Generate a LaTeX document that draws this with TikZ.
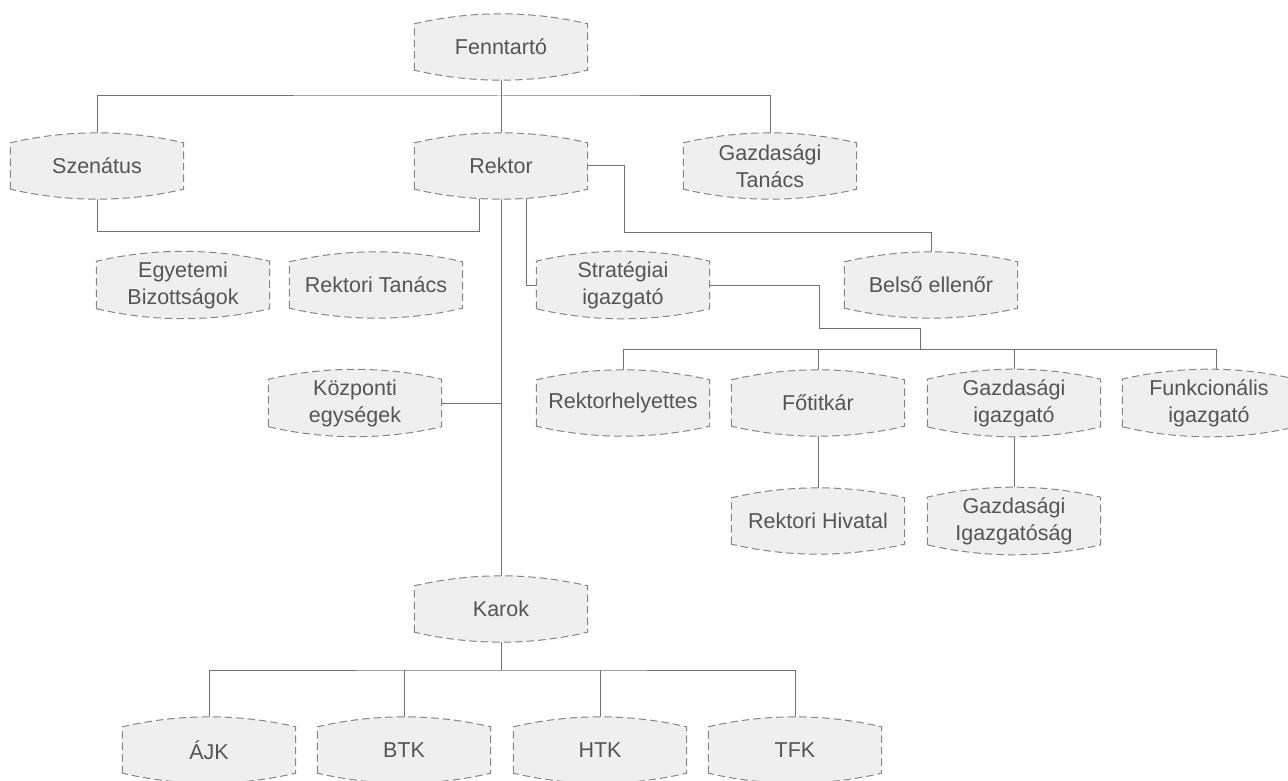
\documentclass[tikz,border=0pt]{standalone}
\usepackage{fontspec}
\setmainfont{Liberation Sans}
\usetikzlibrary{calc}
\pgfdeclarelayer{lines}
\pgfdeclarelayer{shapes}
\pgfsetlayers{lines,shapes,main}
\definecolor{txtc}{HTML}{555555}
\definecolor{linec}{HTML}{707070}
\definecolor{bordc}{HTML}{858585}
\definecolor{fillc}{HTML}{EFEFEF}
\tikzset{
  unit/.style={rectangle, minimum width=173pt, minimum height=46pt, inner sep=0pt,
    align=center, text=txtc, font=\fontsize{21.5}{27}\selectfont},
  bxs/.style={draw=bordc, fill=fillc, line width=1pt, dash pattern=on 7.5pt off 4pt},
  conn/.style={draw=linec, line width=1pt}
}
\newcommand\bx[1]{\path[bxs] (#1.south west) -- (#1.north west)
  .. controls ($(#1.north west)!0.33!(#1.north east)+(0pt,13.3pt)$) and ($(#1.north west)!0.67!(#1.north east)+(0pt,13.3pt)$) .. (#1.north east)
  -- (#1.south east)
  .. controls ($(#1.south west)!0.67!(#1.south east)+(0pt,-13.3pt)$) and ($(#1.south west)!0.33!(#1.south east)+(0pt,-13.3pt)$) .. (#1.south west) -- cycle;}
\begin{document}
\begin{tikzpicture}[x=1pt,y=-1pt]
\useasboundingbox (0,0) rectangle (1288,781);
\node[unit] (F) at (501,47) {Fenntartó};
\node[unit] (Sz) at (97,166) {Szenátus};
\node[unit] (R) at (501,166) {Rektor};
\node[unit] (GT) at (770,166) {Gazdasági\\Tanács};
\node[unit] (EB) at (183,285) {Egyetemi\\Bizottságok};
\node[unit] (RT) at (376,285) {Rektori Tanács};
\node[unit] (SI) at (623,285) {Stratégiai\\igazgató};
\node[unit] (BE) at (931,285) {Belső ellenőr};
\node[unit] (KE) at (355,403) {Központi\\egységek};
\node[unit] (RH) at (623,403) {Rektorhelyettes};
\node[unit] (FT) at (818,403) {Főtitkár};
\node[unit] (GI) at (1014,403) {Gazdasági\\igazgató};
\node[unit] (FI) at (1209,403) {Funkcionális\\igazgató};
\node[unit] (RHiv) at (818,521) {Rektori Hivatal};
\node[unit] (GIg) at (1014,521) {Gazdasági\\Igazgatóság};
\node[unit] (K) at (501,609) {Karok};
\node[unit] (AJK) at (209,750) {ÁJK};
\node[unit] (BTK) at (404,750) {BTK};
\node[unit] (HTK) at (600,750) {HTK};
\node[unit] (TFK) at (795,750) {TFK};
\begin{pgfonlayer}{shapes}
\foreach \n in {F,Sz,R,GT,EB,RT,SI,BE,KE,RH,FT,GI,FI,RHiv,GIg,K,AJK,BTK,HTK,TFK}{\bx{\n}}
\end{pgfonlayer}
\begin{pgfonlayer}{lines}
\coordinate (b1) at (501,96);
\draw[conn] (F.south) -- (b1);
\draw[conn] (Sz.north) |- (b1) -| (GT.north);
\draw[conn] (b1) -- (R.north);
\coordinate (r1) at (479,166);
\draw[conn] (Sz.south) |- (479,231) -- (r1);
\draw[conn] (R.south) -- (K.north);
\coordinate (r2) at (526,166);
\draw[conn] (r2) |- (SI.west);
\draw[conn] (R.east) -| (624,232) -| (BE.north);
\draw[conn] (KE.east) -- (501,403);
\coordinate (b2) at (920,349);
\draw[conn] (SI.east) -| (819,328) -| (b2);
\draw[conn] (RH.north) |- (b2);
\draw[conn] (b2) -| (1216,380);
\draw[conn] (FT.north) -- (FT.north |- b2);
\draw[conn] (GI.north) -- (GI.north |- b2);
\draw[conn] (FT.south) -- (RHiv.north);
\draw[conn] (GI.south) -- (GIg.north);
\coordinate (b3) at (501,670);
\draw[conn] (K.south) -- (b3);
\draw[conn] (AJK.north) |- (b3) -| (TFK.north);
\draw[conn] (BTK.north) -- (BTK.north |- b3);
\draw[conn] (HTK.north) -- (HTK.north |- b3);
\end{pgfonlayer}
\end{tikzpicture}
\end{document}
